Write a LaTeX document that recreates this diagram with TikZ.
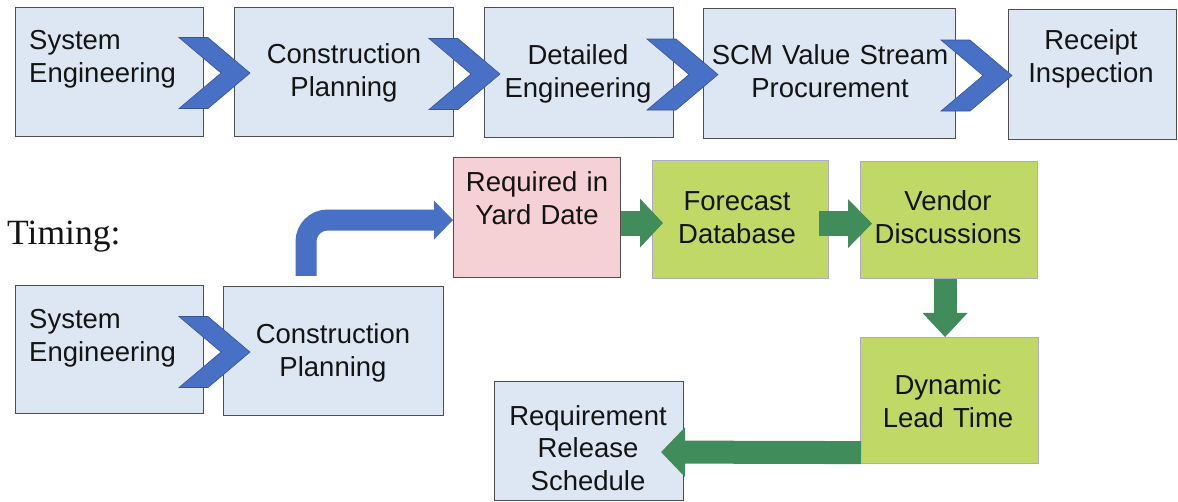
\documentclass[tikz,border=0pt]{standalone}
\usepackage{fontspec}
\setmainfont{Liberation Sans}
\newfontfamily\timingfont{Liberation Serif}
\usetikzlibrary{arrows.meta,calc}

\definecolor{boxblue}{RGB}{221,231,243}
\definecolor{boxedge}{RGB}{78,78,78}
\definecolor{boxpink}{RGB}{245,208,212}
\definecolor{boxgreen}{RGB}{192,216,102}
\definecolor{greenedge}{RGB}{176,168,200}
\definecolor{chevblue}{RGB}{72,112,196}
\definecolor{chevedge}{RGB}{52,84,156}
\definecolor{arrgreen}{RGB}{64,140,90}
\definecolor{inktext}{RGB}{20,20,20}

\begin{document}
\begin{tikzpicture}[x=1pt,y=-1pt,
  box/.style={draw=boxedge, line width=1.1pt, fill=boxblue, inner sep=0pt, anchor=north west},
  pinkbox/.style={box, fill=boxpink},
  greenbox/.style={box, draw=greenedge, fill=boxgreen},
  txt/.style={inner sep=0pt, text width=250pt, align=center, anchor=base,
    text=inktext, font=\fontsize{27.5}{32.5}\selectfont},
  txtleft/.style={txt, align=left, anchor=base west},
  garrow/.style={draw=arrgreen, line width=#1, line cap=butt},
  barrow/.style={draw=chevblue, line width=21pt, line cap=butt},
  chev/.pic={
    \fill[chevblue, draw=chevedge, line width=0.6pt, line join=miter]
      (-71,-35.5) -- (-42,-35.5) -- (0,0) -- (-42,35.5) -- (-71,35.5) -- (-29,0) -- cycle;
  }]

\fill[white] (0,0) rectangle (1178,502);
\useasboundingbox (0,0) rectangle (1178,502);

% main process row
\node[box, minimum width=188pt, minimum height=129pt] (se)  at (15,7)   {};
\node[box, minimum width=219pt, minimum height=129pt] (cp)  at (234,7)  {};
\node[box, minimum width=189pt, minimum height=130pt] (de)  at (484,7)  {};
\node[box, minimum width=252pt, minimum height=130pt] (scm) at (703,8)  {};
\node[box, minimum width=168pt, minimum height=130pt] (ri)  at (1008,9) {};

% timing chain
\node[box, minimum width=188pt, minimum height=128pt] (se2) at (15,285)  {};
\node[box, minimum width=220pt, minimum height=129pt] (cp2) at (223,286) {};
\node[pinkbox, minimum width=167pt, minimum height=120pt] (req) at (453,157) {};
\node[greenbox, minimum width=176pt, minimum height=118pt] (fc) at (652,160) {};
\node[greenbox, minimum width=177pt, minimum height=117pt] (vd) at (860,161) {};
\node[greenbox, minimum width=178pt, minimum height=126pt] (dl) at (860,337) {};
\node[box, minimum width=189pt, minimum height=119pt] (rr) at (494,381) {};

% chevrons between process steps
\pic at ($(cp.west)+(16,1)$)  {chev};
\pic at ($(de.west)+(16,1.5)$) {chev};
\pic at ($(scm.west)+(15,1)$) {chev};
\pic at ($(ri.west)+(4,1)$)   {chev};
\pic at ($(cp2.west)+(27,1)$) {chev};

% bent arrow from planning up to the yard date
\draw[barrow, rounded corners=21.5pt,
  -{Triangle[length=19pt,width=39pt,line width=0pt]}]
  ($(cp2.north)+(-27.5,-10)$) |- ($(req.west)+(0,2.5)$);

% green flow arrows
\draw[garrow=25pt, -{Triangle[length=23pt,width=49pt,line width=0pt]}]
  ($(req.east)+(0,5.5)$) -- ($(fc.west)+(11,3.5)$);
\draw[garrow=25pt, -{Triangle[length=24pt,width=49pt,line width=0pt]}]
  ($(fc.east)+(-10,4)$) -- ($(vd.west)+(12,3.5)$);
\draw[garrow=23pt, -{Triangle[length=24pt,width=45pt,line width=0pt]}]
  ($(vd.south)+(-4,0)$) -- ($(dl.north)+(-4.5,0)$);
\draw[garrow=23pt, -{Triangle[length=24pt,width=50pt,line width=0pt]}]
  ($(dl.south west)+(1,-11.5)$) -- ($(rr.east)+(-23,11)$);

% labels
\node[txtleft] (se-t)  at (29,50)   {System\\Engineering};
\node[txt]     (cp-t)  at (344,64)  {Construction\\Planning};
\node[txt]     (de-t)  at (578,65)  {Detailed\\Engineering};
\node[txt]     (scm-t) at (830,65)  {SCM Value Stream\\Procurement};
\node[txt]     (ri-t)  at (1091,50) {Receipt\\Inspection};

\node[anchor=base west, inner sep=0pt, text=inktext,
  font=\timingfont\fontsize{35.5}{38}\selectfont] (timing) at (7,245) {Timing:};

\node[txtleft] (se2-t) at (29,329)  {System\\Engineering};
\node[txt]     (cp2-t) at (333,344) {Construction\\Planning};
\node[txt]     (req-t) at (537,192) {Required in\\Yard Date};
\node[txt]     (fc-t)  at (737,211) {Forecast\\Database};
\node[txt]     (vd-t)  at (948,211) {Vendor\\Discussions};
\node[txt]     (dl-t)  at (948,395) {Dynamic\\Lead Time};
\node[txt]     (rr-t)  at (588,425) {Requirement\\Release\\Schedule};
\end{tikzpicture}
\end{document}
